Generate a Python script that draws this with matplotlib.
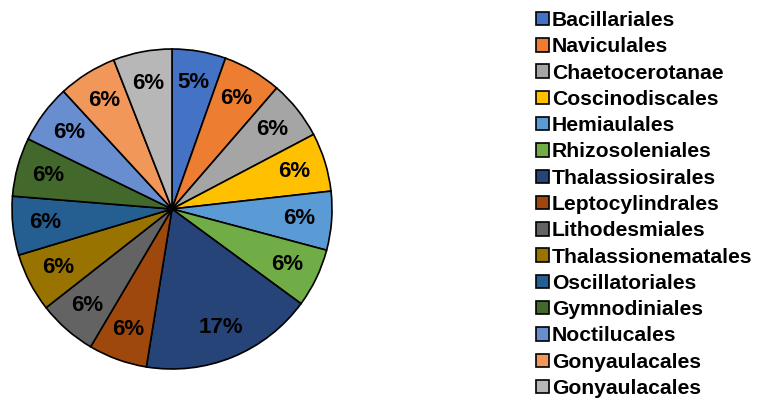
import matplotlib
matplotlib.use("Agg")
import matplotlib.pyplot as plt
from matplotlib.patches import Patch

plt.rcParams['font.family'] = ['Liberation Sans', 'DejaVu Sans']

orders = ["Bacillariales", "Naviculales", "Chaetocerotanae", "Coscinodiscales",
          "Hemiaulales", "Rhizosoleniales", "Thalassiosirales", "Leptocylindrales",
          "Lithodesmiales", "Thalassionematales", "Oscillatoriales", "Gymnodiniales",
          "Noctilucales", "Gonyaulacales", "Gonyaulacales"]
shares = [5.4, 5.9, 5.9, 5.9, 5.9, 5.9, 17.4, 5.9, 5.9, 5.9, 5.9, 5.9, 5.9, 5.9, 5.9]
colors = ["#4472C4", "#ED7D31", "#A5A5A5", "#FFC000", "#5B9BD5", "#70AD47",
          "#264478", "#9E480E", "#636363", "#997300", "#255E91", "#43682B",
          "#698ED0", "#F1975A", "#B7B7B7"]

W, H = 757, 401
fig = plt.figure(figsize=(W / 100, H / 100), dpi=100)

# pie centre ~ (172, 209) px, radius ~ 160 px
cx, cy, r = 172, 209, 160
pad = 1.03
ax = fig.add_axes([(cx - r * pad) / W, (H - cy - r * pad) / H,
                   2 * r * pad / W, 2 * r * pad / H])
wedges, texts, autotexts = ax.pie(
    shares, colors=colors, startangle=90, counterclock=False,
    autopct=lambda p: "%d%%" % round(p), pctdistance=0.8,
    wedgeprops=dict(edgecolor="black", linewidth=1.2),
    textprops=dict(fontsize=16, fontweight="bold", color="black"))
ax.set_xlim(-pad, pad)
ax.set_ylim(-pad, pad)
ax.set_aspect("equal")

handles = [Patch(facecolor=c, edgecolor="black", linewidth=1.2) for c in colors]
fig.legend(handles, orders, loc="upper left", bbox_to_anchor=(536 / W, 1 - 11 / H),
           frameon=False, prop=dict(size=15.2, weight="bold"),
           handlelength=0.6, handleheight=0.6, handletextpad=0.15,
           labelspacing=0.345, borderaxespad=0, borderpad=0)

fig.savefig("out.png", dpi=100)
